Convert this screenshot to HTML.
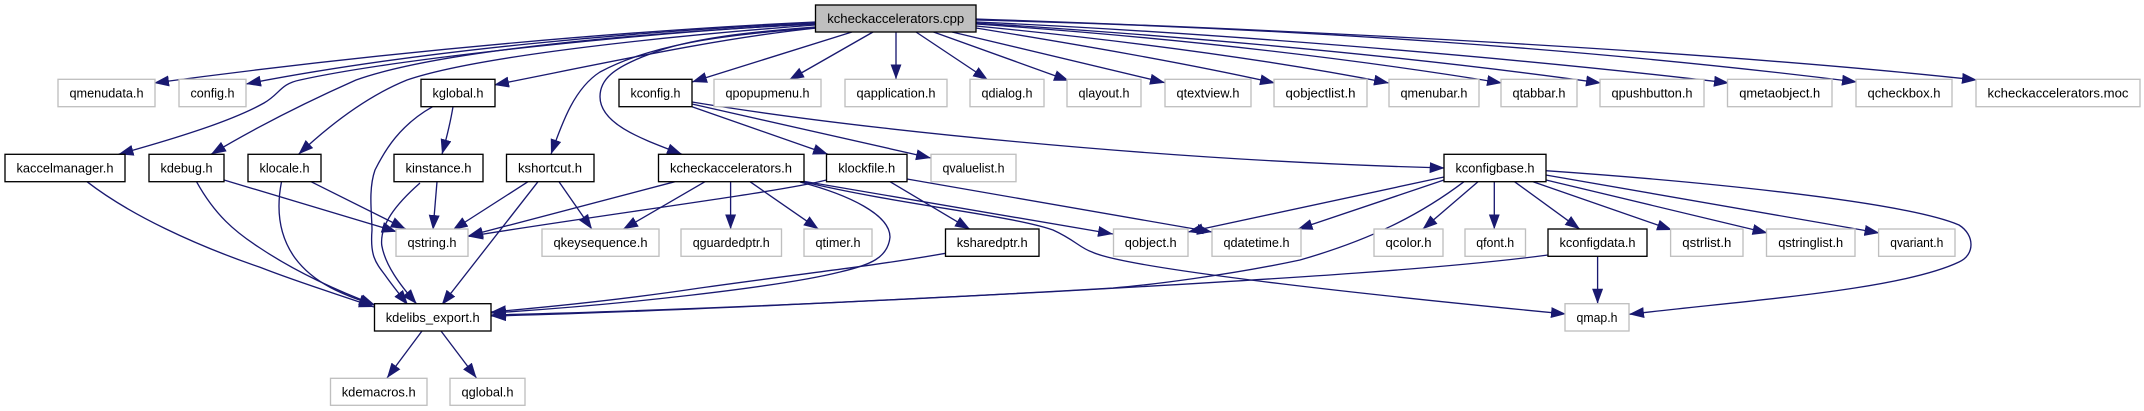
<!DOCTYPE html>
<html><head><meta charset="utf-8"><title>kcheckaccelerators.cpp</title>
<style>html,body{margin:0;padding:0;background:#fff}svg{display:block}
text{font-family:"Liberation Sans",sans-serif;font-size:13.33px;fill:#000;text-anchor:middle}
.b{fill:#fff;stroke:#000;stroke-width:1.33}.g{fill:#fff;stroke:#bfbfbf;stroke-width:1.33}
.e path{fill:none;stroke:#191970;stroke-width:1.33;marker-end:url(#a)}</style></head><body>
<svg width="2144" height="411" viewBox="0 0 2144 411" xmlns="http://www.w3.org/2000/svg">
<defs><marker id="a" markerUnits="userSpaceOnUse" markerWidth="16" markerHeight="12" refX="15" refY="5.5" orient="auto"><path d="M0,0L15,5.5L0,11Z" fill="#191970"/></marker></defs>
<g class="e">
<path d="M815,22C640,30 400,50 154,83"/>
<path d="M815,23C640,31 420,50 246,84"/>
<path d="M815,24C650,32 400,58 300,80C280,84 280,94 264,103C230,122 170,140 118.5,154.3"/>
<path d="M815,24C640,33 440,50 356,80C320,96 265,122 211,154.3"/>
<path d="M815,25C680,35 480,55 407,80C370,95 335,120 298.5,154.3"/>
<path d="M817,28C720,38 620,60 494,85"/>
<path d="M815,28C720,35 650,45 600,72C575,88 563,120 551,154.3"/>
<path d="M815,27C750,32 690,38 650,54C612,68 600,80 600,96.7C600,125 645,140 682,154.3"/>
<path d="M852,32L692,82"/>
<path d="M873,32L789,80"/>
<path d="M896,32L896,79.3"/>
<path d="M916,32L988,80"/>
<path d="M933.5,32L1069,80.7"/>
<path d="M952,32L1165,82.7"/>
<path d="M976,28C1080,45 1180,62 1275,83"/>
<path d="M976,26C1120,40 1260,58 1389,83"/>
<path d="M976,24C1150,36 1330,55 1502,83"/>
<path d="M976,23C1180,36 1400,55 1601,83"/>
<path d="M976,22C1200,32 1500,56 1729,83"/>
<path d="M976,20C1300,28 1600,50 1857,82"/>
<path d="M976,19C1300,30 1700,50 1977,80"/>
<path d="M692,106.7L828,154.3"/>
<path d="M692,104C770,122 850,140 931,158"/>
<path d="M692,102C850,128 1150,160 1444.7,168"/>
<path d="M453,106.7C450,125 446,140 442,154.3"/>
<path d="M432.6,106.7C400,125 385,150 375,170C368,190 372,215 372,230C370,255 375,262 385,275C392,285 400,295 408,305"/>
<path d="M420,183C395,205 380,225 381.7,245C385,265 400,285 416.7,304"/>
<path d="M437,181.7L433,230"/>
<path d="M311,181.7L405.7,229"/>
<path d="M224,180L396.7,231.7"/>
<path d="M528,181.7L452.7,230"/>
<path d="M675,181.7L468,236"/>
<path d="M826.5,180C780,192 600,215 468,236.5"/>
<path d="M705,181.7L623,229.3"/>
<path d="M559,181.7L592,229.3"/>
<path d="M538,181.7L441.7,305"/>
<path d="M87,181.7C130,215 195,245 260,267.3C300,283 340,295 374,307"/>
<path d="M196.5,181.7C215,215 235,232 260,248C290,268 330,288 375,305"/>
<path d="M281.5,181.7C275,215 282,240 295,258C315,285 345,295 374,305"/>
<path d="M422,331L387,378"/>
<path d="M441,331L476.5,378"/>
<path d="M945.5,253.3C880,265 800,274 700,288C640,297 560,306 491,312"/>
<path d="M800,182C850,195 890,215 890,237C888,258 870,265 840,272C780,287 620,305 491,313"/>
<path d="M1464,181.7C1420,215 1370,240 1300,260C1230,275 1150,285 1113,288C960,297 700,310 491,315"/>
<path d="M1548,255C1450,268 1300,278 1047,292C850,302 650,312 491,316"/>
<path d="M800,181C900,205 1010,215 1053,230C1075,240 1080,248 1092,252C1130,270 1400,298 1566,314"/>
<path d="M802,181L1113,234"/>
<path d="M907,179L1212,232"/>
<path d="M1444,177L1188,232"/>
<path d="M1444,180L1297.6,229.3"/>
<path d="M1478,181.7L1422.6,229.3"/>
<path d="M1494.3,181.7L1494.3,229.3"/>
<path d="M1514.5,181.7L1580,229.3"/>
<path d="M1533,181.7L1672,230"/>
<path d="M1546,180L1767.5,233"/>
<path d="M1545.7,175L1879.5,233"/>
<path d="M1545.7,170.7C1680,180 1900,200 1959,225C1975,235 1975,255 1959,262C1900,290 1750,300 1629,314.3"/>
<path d="M1597.6,256.3L1597.6,303.7"/>
<path d="M730.6,181.7L730.6,229.3"/>
<path d="M750,181.7L818.7,229.3"/>
<path d="M890,181.7L970,229.3"/>
</g>
<rect x="815.5" y="5" width="160.5" height="27" fill="#bfbfbf" stroke="#000" stroke-width="1.33"/><text x="895.7" y="23" textLength="137" lengthAdjust="spacingAndGlyphs">kcheckaccelerators.cpp</text>
<rect class="g" x="58" y="79.3" width="97" height="27.4"/><text x="106.5" y="97.5" textLength="74" lengthAdjust="spacingAndGlyphs">qmenudata.h</text>
<rect class="g" x="179" y="79.3" width="67" height="27.4"/><text x="212.5" y="97.5" textLength="44" lengthAdjust="spacingAndGlyphs">config.h</text>
<rect class="b" x="421" y="79.3" width="74" height="27.4"/><text x="458" y="97.5" textLength="51" lengthAdjust="spacingAndGlyphs">kglobal.h</text>
<rect class="b" x="619" y="79.3" width="73" height="27.4"/><text x="655.5" y="97.5" textLength="50" lengthAdjust="spacingAndGlyphs">kconfig.h</text>
<rect class="g" x="714" y="79.3" width="107" height="27.4"/><text x="767.5" y="97.5" textLength="84" lengthAdjust="spacingAndGlyphs">qpopupmenu.h</text>
<rect class="g" x="845" y="79.3" width="102" height="27.4"/><text x="896" y="97.5" textLength="79" lengthAdjust="spacingAndGlyphs">qapplication.h</text>
<rect class="g" x="970" y="79.3" width="74" height="27.4"/><text x="1007" y="97.5" textLength="51" lengthAdjust="spacingAndGlyphs">qdialog.h</text>
<rect class="g" x="1067" y="79.3" width="74" height="27.4"/><text x="1104" y="97.5" textLength="51" lengthAdjust="spacingAndGlyphs">qlayout.h</text>
<rect class="g" x="1165" y="79.3" width="86" height="27.4"/><text x="1208" y="97.5" textLength="63" lengthAdjust="spacingAndGlyphs">qtextview.h</text>
<rect class="g" x="1274" y="79.3" width="93" height="27.4"/><text x="1320.5" y="97.5" textLength="70" lengthAdjust="spacingAndGlyphs">qobjectlist.h</text>
<rect class="g" x="1389" y="79.3" width="90" height="27.4"/><text x="1434" y="97.5" textLength="67" lengthAdjust="spacingAndGlyphs">qmenubar.h</text>
<rect class="g" x="1501" y="79.3" width="76" height="27.4"/><text x="1539" y="97.5" textLength="53" lengthAdjust="spacingAndGlyphs">qtabbar.h</text>
<rect class="g" x="1600" y="79.3" width="104" height="27.4"/><text x="1652" y="97.5" textLength="81" lengthAdjust="spacingAndGlyphs">qpushbutton.h</text>
<rect class="g" x="1727.5" y="79.3" width="104.5" height="27.4"/><text x="1779.7" y="97.5" textLength="81" lengthAdjust="spacingAndGlyphs">qmetaobject.h</text>
<rect class="g" x="1856" y="79.3" width="96" height="27.4"/><text x="1904" y="97.5" textLength="73" lengthAdjust="spacingAndGlyphs">qcheckbox.h</text>
<rect class="g" x="1976" y="79.3" width="164" height="27.4"/><text x="2058" y="97.5" textLength="141" lengthAdjust="spacingAndGlyphs">kcheckaccelerators.moc</text>
<rect class="b" x="5" y="154.3" width="120" height="27.4"/><text x="65" y="172.5" textLength="97" lengthAdjust="spacingAndGlyphs">kaccelmanager.h</text>
<rect class="b" x="149" y="154.3" width="75" height="27.4"/><text x="186.5" y="172.5" textLength="52" lengthAdjust="spacingAndGlyphs">kdebug.h</text>
<rect class="b" x="248" y="154.3" width="73" height="27.4"/><text x="284.5" y="172.5" textLength="50" lengthAdjust="spacingAndGlyphs">klocale.h</text>
<rect class="b" x="394" y="154.3" width="89" height="27.4"/><text x="438.5" y="172.5" textLength="66" lengthAdjust="spacingAndGlyphs">kinstance.h</text>
<rect class="b" x="506.5" y="154.3" width="87.5" height="27.4"/><text x="550" y="172.5" textLength="64" lengthAdjust="spacingAndGlyphs">kshortcut.h</text>
<rect class="b" x="658.5" y="154.3" width="145.5" height="27.4"/><text x="731" y="172.5" textLength="122" lengthAdjust="spacingAndGlyphs">kcheckaccelerators.h</text>
<rect class="b" x="826.5" y="154.3" width="80.5" height="27.4"/><text x="866.7" y="172.5" textLength="57" lengthAdjust="spacingAndGlyphs">klockfile.h</text>
<rect class="g" x="931" y="154.3" width="85" height="27.4"/><text x="973.5" y="172.5" textLength="62" lengthAdjust="spacingAndGlyphs">qvaluelist.h</text>
<rect class="b" x="1444" y="154.3" width="102" height="27.4"/><text x="1495" y="172.5" textLength="79" lengthAdjust="spacingAndGlyphs">kconfigbase.h</text>
<rect class="g" x="396" y="229" width="72" height="27.3"/><text x="432" y="247.2" textLength="49" lengthAdjust="spacingAndGlyphs">qstring.h</text>
<rect class="g" x="542" y="229" width="117" height="27.3"/><text x="600.5" y="247.2" textLength="94" lengthAdjust="spacingAndGlyphs">qkeysequence.h</text>
<rect class="g" x="681" y="229" width="100.5" height="27.3"/><text x="731.2" y="247.2" textLength="77" lengthAdjust="spacingAndGlyphs">qguardedptr.h</text>
<rect class="g" x="804" y="229" width="68" height="27.3"/><text x="838" y="247.2" textLength="45" lengthAdjust="spacingAndGlyphs">qtimer.h</text>
<rect class="b" x="945.5" y="229" width="93.5" height="27.3"/><text x="992.2" y="247.2" textLength="71" lengthAdjust="spacingAndGlyphs">ksharedptr.h</text>
<rect class="g" x="1113.5" y="229" width="74.5" height="27.3"/><text x="1150.7" y="247.2" textLength="52" lengthAdjust="spacingAndGlyphs">qobject.h</text>
<rect class="g" x="1212" y="229" width="89" height="27.3"/><text x="1256.5" y="247.2" textLength="66" lengthAdjust="spacingAndGlyphs">qdatetime.h</text>
<rect class="g" x="1374" y="229" width="69" height="27.3"/><text x="1408.5" y="247.2" textLength="46" lengthAdjust="spacingAndGlyphs">qcolor.h</text>
<rect class="g" x="1465" y="229" width="60.5" height="27.3"/><text x="1495.2" y="247.2" textLength="38" lengthAdjust="spacingAndGlyphs">qfont.h</text>
<rect class="b" x="1548" y="229" width="99" height="27.3"/><text x="1597.5" y="247.2" textLength="76" lengthAdjust="spacingAndGlyphs">kconfigdata.h</text>
<rect class="g" x="1670.6" y="229" width="72.4" height="27.3"/><text x="1706.8" y="247.2" textLength="49" lengthAdjust="spacingAndGlyphs">qstrlist.h</text>
<rect class="g" x="1766.5" y="229" width="88.5" height="27.3"/><text x="1810.7" y="247.2" textLength="65" lengthAdjust="spacingAndGlyphs">qstringlist.h</text>
<rect class="g" x="1878.6" y="229" width="76.4" height="27.3"/><text x="1916.8" y="247.2" textLength="53" lengthAdjust="spacingAndGlyphs">qvariant.h</text>
<rect class="b" x="374.5" y="303.7" width="116.5" height="27.3"/><text x="432.7" y="321.9" textLength="94" lengthAdjust="spacingAndGlyphs">kdelibs_export.h</text>
<rect class="g" x="1565" y="303.7" width="64" height="27.3"/><text x="1597" y="321.9" textLength="41" lengthAdjust="spacingAndGlyphs">qmap.h</text>
<rect class="g" x="330.5" y="378.3" width="96.5" height="27"/><text x="378.7" y="396.3" textLength="74" lengthAdjust="spacingAndGlyphs">kdemacros.h</text>
<rect class="g" x="450" y="378.3" width="75" height="27"/><text x="487.5" y="396.3" textLength="52" lengthAdjust="spacingAndGlyphs">qglobal.h</text>
</svg></body></html>
